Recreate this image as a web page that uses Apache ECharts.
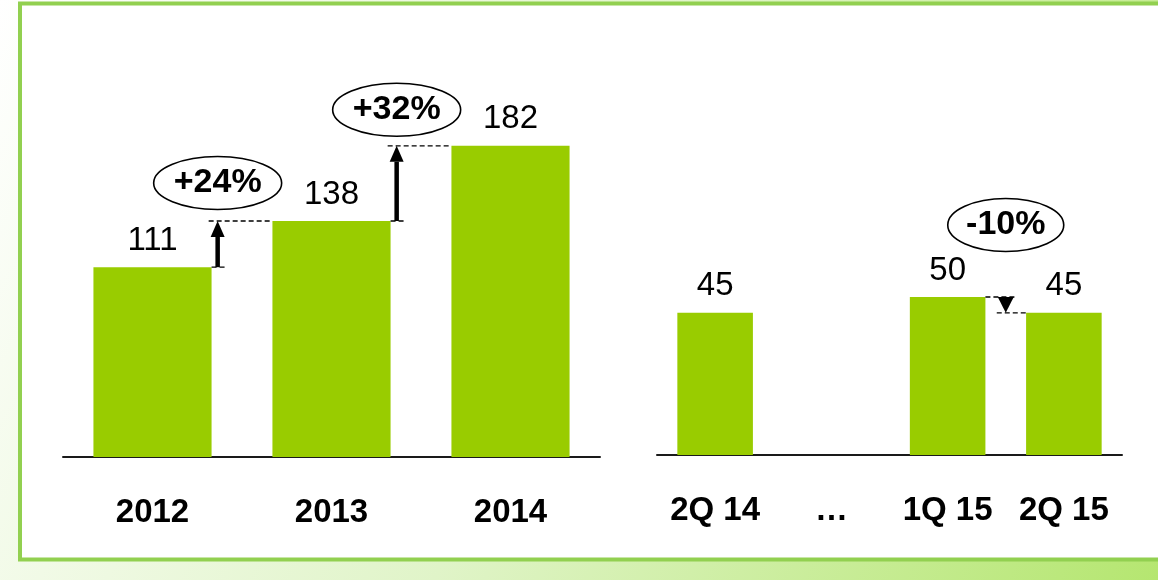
<!DOCTYPE html>
<html>
<head>
<meta charset="utf-8">
<script src="https://cdn.jsdelivr.net/npm/echarts@6/dist/echarts.min.js"></script>
<style>
  html, body { margin: 0; padding: 0; }
  #main { width: 1158px; height: 580px; }
</style>
</head>
<body>
<div id="main"></div>
<script>
var yearCats = ['2012', '2013', '2014'];
var yearValues = [111, 138, 182];
var quarterCats = ['2Q 14', '…', '1Q 15', '2Q 15'];
var quarterValues = [45, '-', 50, 45];

// change arrows: series, bar they start from, bar they point to, bubble text
var changeSeries = [0, 0, 1];
var changeFrom = [0, 1, 2];
var changeTo = [1, 2, 3];
var changeLabels = ['+24%', '+32%', '-10%'];

var font = 'Arial, "Liberation Sans", sans-serif';
var green = '#99cc00';
var barRatio = [0.66, 0.65];
// where the arrow sits inside the gap, and how high the bubble floats
var arrowPos = [0.1, 0.1, 0.5];
var bubbleLift = [38, 36, 72];
var bubbleRx = [64, 64, 58];

var chart = echarts.init(document.getElementById('main'));

function catAxis(cats, idx) {
  return {
    type: 'category',
    gridIndex: idx,
    data: cats,
    axisLine: { lineStyle: { color: '#1a1a1a', width: 2 } },
    axisTick: { show: false },
    axisLabel: {
      margin: 39,
      fontSize: 33,
      fontWeight: 'bold',
      color: '#000',
      fontFamily: font,
      interval: 0
    }
  };
}

function valAxis(idx, max) {
  return {
    type: 'value',
    gridIndex: idx,
    min: 0,
    max: max,
    show: false
  };
}

function barSeries(idx, values) {
  return {
    type: 'bar',
    xAxisIndex: idx,
    yAxisIndex: idx,
    data: values,
    barWidth: Math.round(barRatio[idx] * 100) + '%',
    itemStyle: { color: green },
    label: {
      show: true,
      position: 'top',
      distance: 10,
      fontSize: 33,
      color: '#000',
      fontFamily: font
    },
    animation: false
  };
}

chart.setOption({
  backgroundColor: new echarts.graphic.LinearGradient(0, 0, 1, 1, [
    { offset: 0, color: '#ffffff' },
    { offset: 0.5, color: '#e0f4c8' },
    { offset: 1, color: '#b5e670' }
  ]),
  animation: false,
  grid: [
    { left: 63, right: 558, top: 115, bottom: 123 },
    { left: 657, right: 36, top: 139, bottom: 125 }
  ],
  xAxis: [catAxis(yearCats, 0), catAxis(quarterCats, 1)],
  yAxis: [valAxis(0, 200), valAxis(1, 100)],
  series: [barSeries(0, yearValues), barSeries(1, quarterValues)]
});

function buildMarks() {
  var els = [{
    type: 'rect',
    z: -10,
    shape: { x: 20, y: 3.5, width: 1200, height: 556 },
    style: { fill: '#fff', stroke: '#92d050', lineWidth: 4 }
  }];

  for (var i = 0; i < changeLabels.length; i++) {
    var s = changeSeries[i];
    var vals = s === 0 ? yearValues : quarterValues;
    var a = chart.convertToPixel({ seriesIndex: s }, [changeFrom[i], vals[changeFrom[i]]]);
    var b = chart.convertToPixel({ seriesIndex: s }, [changeTo[i], vals[changeTo[i]]]);
    var band = (b[0] - a[0]) / (changeTo[i] - changeFrom[i]);
    var half = band * barRatio[s] / 2;
    var gapL = a[0] + half;
    var gapR = b[0] - half;
    var x = gapL + (gapR - gapL) * arrowPos[i];
    var y0 = a[1], y1 = b[1];
    var dir = y1 > y0 ? 1 : -1;
    var len = Math.abs(y1 - y0);
    var head = Math.min(16, len);
    var hw = dir > 0 ? 8 : 7;
    var dash = { stroke: '#000', lineWidth: 1.3, lineDash: [5, 3] };

    els.push({ type: 'line', z: 10, shape: { x1: gapL, y1: y0, x2: x + 9, y2: y0 }, style: dash });
    els.push({ type: 'line', z: 10, shape: { x1: x - 9, y1: y1, x2: gapR, y2: y1 }, style: dash });

    if (len - head > 1) {
      els.push({
        type: 'line', z: 11,
        shape: { x1: x, y1: y0, x2: x, y2: y1 - dir * head },
        style: { stroke: '#000', lineWidth: 4.5 }
      });
    }
    els.push({
      type: 'polygon', z: 11,
      shape: { points: [[x - hw, y1 - dir * head], [x + hw, y1 - dir * head], [x, y1]] },
      style: { fill: '#000' }
    });

    var cy = Math.min(y0, y1) - bubbleLift[i];
    els.push({
      type: 'ellipse', z: 11,
      shape: { cx: x, cy: cy, rx: bubbleRx[i], ry: 26.5 },
      style: { fill: '#fff', stroke: '#000', lineWidth: 1.6 }
    });
    els.push({
      type: 'text', z: 12,
      x: x, y: cy,
      style: {
        text: changeLabels[i],
        fill: '#000',
        font: 'bold 34px ' + font,
        align: 'center',
        verticalAlign: 'middle'
      }
    });
  }
  return els;
}

chart.setOption({ graphic: { elements: buildMarks() } });
</script>
</body>
</html>
